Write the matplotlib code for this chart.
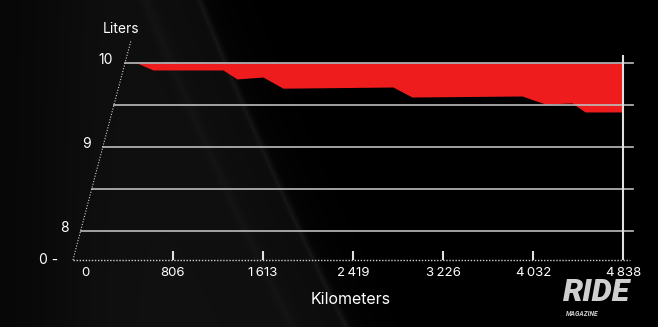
import numpy as np
import matplotlib
matplotlib.use("Agg")
import matplotlib.pyplot as plt

# fuel left in the tank vs distance ridden
distance_km = [484, 627, 1254, 1379, 1612, 1791, 2776, 2946, 3932, 4138, 4379, 4496, 4838]
fuel_liters = [10.0, 9.917, 9.917, 9.81, 9.833, 9.70, 9.714, 9.595, 9.607, 9.512, 9.524, 9.417, 9.417]

x_ticks = [806, 1613, 2419, 3226, 4032, 4838]
x_tick_labels = ["806", "1\u2009613", "2\u2009419", "3\u2009226", "4\u2009032", "4\u2009838"]
grid_levels = [8, 8.5, 9, 9.5, 10]
y_labels = {10: "10", 9: "9", 8: "8"}

W, H = 658, 327
fig = plt.figure(figsize=(W / 100, H / 100), dpi=100)
fig.patch.set_facecolor("black")

# background: dark grey on the left with faint diagonal streaks
bg = fig.add_axes([0, 0, 1, 1])
bg.set_axis_off()
yy, xx = np.mgrid[0:H, 0:W].astype(float)
edge = 200 + 0.40 * yy + 0.00015 * yy ** 2
d = xx - edge
img = np.where(d < 0, 0.065 - 0.02 * np.exp(d / 60), 0.022 * np.exp(-d / 30))
img += 0.04 * np.exp(-(d / 3.5) ** 2) + 0.018 * np.exp(-((d + 55) / 6) ** 2)
img -= 0.035 * np.exp(-(xx / 80) ** 2)
img = np.clip(img, 0, 1)
bg.imshow(img, cmap="gray", vmin=0, vmax=1, aspect="auto", extent=[0, W, H, 0])

# chart axes mapped so that 806 km = 90 px and 1 liter = 84 px
ax = fig.add_axes([0, 0, 1, 1])
ax.set_axis_off()
ax.patch.set_alpha(0)
ax.set_xlim(-743, 5149)
ax.set_ylim(6.857, 10.75)

base = 7.655          # the "0" floor drawn just under 8
slant = 199           # km shift per liter for the tilted y axis
x0 = -90
x_end = 4926

txt = dict(color="white", family=["Inter", "DejaVu Sans"])

# gridlines starting on the tilted axis
for lvl in grid_levels:
    ax.plot([x0 + slant * (lvl - base), x_end], [lvl, lvl], color="#bdbdbd", lw=1.2)
    if lvl in y_labels:
        ax.text(x0 + slant * (lvl - base) - 110, lvl + 0.04, y_labels[lvl],
                ha="right", va="center", fontsize=10, **txt)

# tilted dotted axis and dotted baseline
ax.plot([x0, x0 + slant * (10.27 - base)], [base, 10.27], color="#cfcfcf", lw=0.8, ls=(0, (1, 1.5)))
ax.plot([x0, 4899], [base, base], color="#cfcfcf", lw=1.0, ls=(0, (1, 1.2)))
ax.text(-220, base, "0 -", ha="right", va="center", fontsize=10, **txt)

# red area = fuel used
ax.fill_between(distance_km, fuel_liters, 10, color="#ee1c1c", lw=0)

# ticks and end marker
ax.vlines(x_ticks[:-1], base, base + 0.11, color="#e0e0e0", lw=1.5)
ax.vlines(x_ticks[-1], base, 10.09, color="#e0e0e0", lw=1.5)
ax.text(20, base - 0.15, "0", ha="center", va="center", fontsize=9.5, **txt)
for xv, lab in zip(x_ticks, x_tick_labels):
    ax.text(xv, base - 0.15, lab, ha="center", va="center", fontsize=9.5, **txt)

ax.text(340, 10.4, "Liters", ha="center", va="center", fontsize=10, **txt)
ax.text(2397, 7.18, "Kilometers", ha="center", va="center", fontsize=11.5, **txt)

# logo
logo = dict(color="#cfcfcf", fontstyle="italic", family=["Roboto", "DejaVu Sans"])
fig.text(0.906, 0.106, "RIDE", ha="center", va="center", fontsize=23, fontweight="black", **logo)
fig.text(0.885, 0.040, "MAGAZINE", ha="center", va="center", fontsize=4.8, fontweight="bold", **logo)

fig.savefig("out.png", dpi=100, facecolor="black")
